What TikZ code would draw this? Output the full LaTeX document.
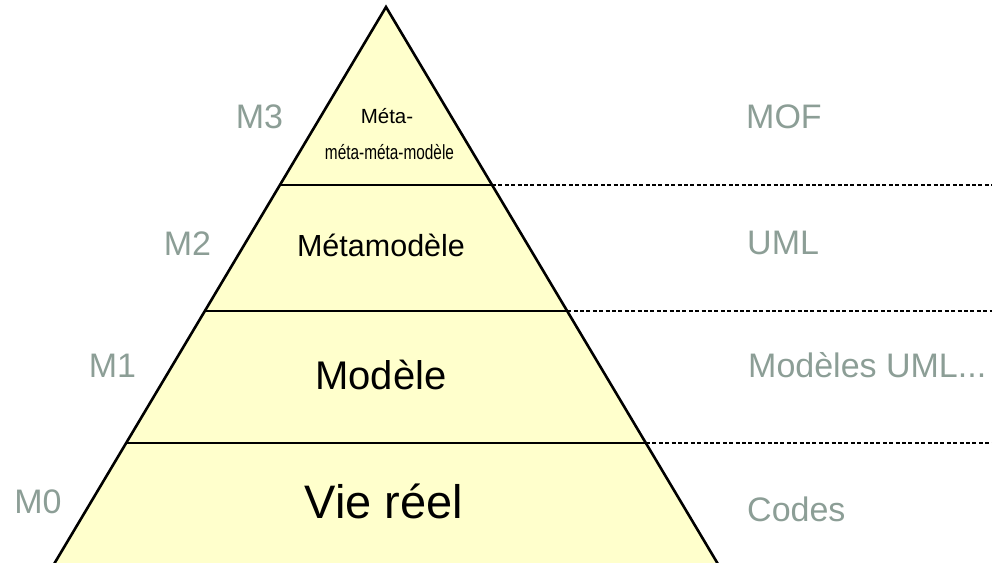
\documentclass[tikz,border=0pt]{standalone}
\usepackage{fontspec}
\setmainfont{Liberation Sans}
\definecolor{pyrfill}{RGB}{255,255,204}
\definecolor{lvlgray}{RGB}{140,158,150}
\tikzset{
  pyrline/.style={line width=2.6pt, black},
  sepline/.style={line width=2.6pt, black, dash pattern=on 4pt off 2.4pt},
  lvl/.style={anchor=base, inner sep=0pt, text=lvlgray, font=\fontsize{34}{40}\selectfont},
  lang/.style={anchor=base west, inner sep=0pt, text=lvlgray, font=\fontsize{34}{40}\selectfont},
  layertext/.style={anchor=base, inner sep=0pt, text=black}
}
\begin{document}
\begin{tikzpicture}[x=1pt,y=-1pt]
\useasboundingbox (0,0) rectangle (992,562);
\clip (0,0) rectangle (992,562);
% pyramid corners
\coordinate (apex) at (386,7);
\coordinate (bl) at (32.6,600);
\coordinate (br) at (739.4,600);
% level boundaries
\coordinate (l3) at (280,185);   \coordinate (r3) at (492,185);
\coordinate (l2) at (204.8,311); \coordinate (r2) at (567.2,311);
\coordinate (l1) at (126,443);   \coordinate (r1) at (646,443);
\coordinate (e3) at (992,185);
\coordinate (e2) at (992,311);
\coordinate (e1) at (992,443);
\draw[pyrline, fill=pyrfill, line join=miter] (apex) -- (bl) -- (br) -- cycle;
\draw[pyrline] (l3) -- (r3);
\draw[pyrline] (l2) -- (r2);
\draw[pyrline] (l1) -- (r1);
\draw[sepline] (r3) -- (e3);
\draw[sepline] (r2) -- (e2);
\draw[sepline] (r1) -- (e1);
% layer texts
\node[layertext, font=\fontsize{20.5}{24}\selectfont] (t3a) at (387,123) {Méta-};
\node[layertext, font=\fontsize{20.5}{24}\selectfont] (t3b) at (389.5,159) {\scalebox{0.75}[1]{méta-méta-modèle}};
\node[layertext, font=\fontsize{30.5}{36}\selectfont] (t2) at (381,256) {Métamodèle};
\node[layertext, font=\fontsize{40}{46}\selectfont] (t1) at (381,389) {Modèle};
\node[layertext, font=\fontsize{47}{56}\selectfont] (t0) at (384,518) {Vie réel};
% level labels
\node[lvl] (m3) at (259.5,128) {M3};
\node[lvl] (m2) at (187.5,255) {M2};
\node[lvl] (m1) at (112.5,377) {M1};
\node[lvl] (m0) at (38,513) {M0};
% language labels
\node[lang] (mof) at (746,128) {MOF};
\node[lang] (uml) at (747,254) {UML};
\node[lang] (muml) at (748,377) {Modèles UML...};
\node[lang] (codes) at (747,521) {Codes};
\end{tikzpicture}
\end{document}
